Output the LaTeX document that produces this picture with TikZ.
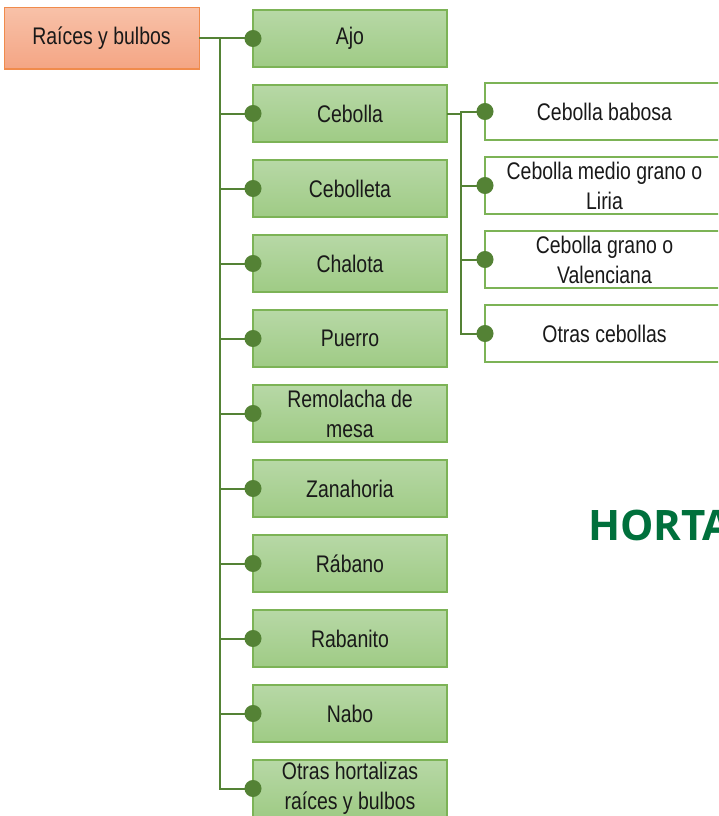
\documentclass[tikz,border=0pt]{standalone}
\usepackage{fontspec}
\setmainfont{Liberation Sans}[FakeStretch=0.81]
\newfontfamily\titulofont{Open Sans}
\usetikzlibrary{arrows.meta,positioning}

\definecolor{linea}{HTML}{548235}
\definecolor{bordeverde}{HTML}{7CB356}
\definecolor{verdearriba}{HTML}{B7D8A6}
\definecolor{verdeabajo}{HTML}{9FCB85}
\definecolor{bordenaranja}{HTML}{F08B4C}
\definecolor{naranjaarriba}{HTML}{F8C1A8}
\definecolor{naranjaabajo}{HTML}{F4A584}
\definecolor{verdetitulo}{HTML}{00703C}

\begin{document}
\begin{tikzpicture}[x=1pt,y=1pt,node distance=18pt,
    font=\fontsize{24}{30}\selectfont,text=black!90,
    raiz/.style={draw=bordenaranja,line width=1pt,top color=naranjaarriba,bottom color=naranjaabajo,
        minimum width=195pt,minimum height=61pt,inner sep=0pt,outer sep=0pt,align=center},
    hoja/.style={draw=bordeverde,line width=1.2pt,top color=verdearriba,bottom color=verdeabajo,
        minimum width=194pt,minimum height=57pt,inner sep=0pt,outer sep=0pt,align=center},
    subhoja/.style={draw=bordeverde,line width=1.2pt,fill=white,
        minimum width=239pt,minimum height=57pt,inner sep=0pt,outer sep=0pt,align=center},
    conn/.style={draw=linea,line width=2pt,-{Circle[length=17pt]},shorten >=-8.5pt}]
    \path[use as bounding box,clip] (0,0) rectangle (718,-816);

    \node[raiz] (raiz) at (101.5,-38.5) {Raíces y bulbos};

    \node[hoja] (ajo) at (350,-38.5) {Ajo};
    \node[hoja,below=of ajo] (cebolla) {Cebolla};
    \node[hoja,below=of cebolla] (cebolleta) {Cebolleta};
    \node[hoja,below=of cebolleta] (chalota) {Chalota};
    \node[hoja,below=of chalota] (puerro) {Puerro};
    \node[hoja,below=of puerro] (remolacha) {Remolacha de\\mesa};
    \node[hoja,below=of remolacha] (zanahoria) {Zanahoria};
    \node[hoja,below=of zanahoria] (rabano) {Rábano};
    \node[hoja,below=of rabano] (rabanito) {Rabanito};
    \node[hoja,below=of rabanito] (nabo) {Nabo};
    \node[hoja,below=of nabo] (otrasraices) {Otras hortalizas\\raíces y bulbos};

    \node[subhoja] (babosa) at (604.5,-111.5) {Cebolla babosa};
    \node[subhoja,below=17pt of babosa] (liria) {Cebolla medio grano o\\Liria};
    \node[subhoja,below=17pt of liria] (valenciana) {Cebolla grano o\\Valenciana};
    \node[subhoja,below=17pt of valenciana] (otrascebollas) {Otras cebollas};

    \node[anchor=base west,inner sep=0pt,text=verdetitulo,font=\titulofont\bfseries\fontsize{42}{42}\selectfont] (horta) at (588,-540) {HORTA};

    % raices y bulbos
    \draw[conn] (raiz.east) -- (ajo.west);
    \draw[conn] (raiz.east) -| ([xshift=-33pt]cebolla.west) -- (cebolla.west);
    \draw[conn] (raiz.east) -| ([xshift=-33pt]cebolleta.west) -- (cebolleta.west);
    \draw[conn] (raiz.east) -| ([xshift=-33pt]chalota.west) -- (chalota.west);
    \draw[conn] (raiz.east) -| ([xshift=-33pt]puerro.west) -- (puerro.west);
    \draw[conn] (raiz.east) -| ([xshift=-33pt]remolacha.west) -- (remolacha.west);
    \draw[conn] (raiz.east) -| ([xshift=-33pt]zanahoria.west) -- (zanahoria.west);
    \draw[conn] (raiz.east) -| ([xshift=-33pt]rabano.west) -- (rabano.west);
    \draw[conn] (raiz.east) -| ([xshift=-33pt]rabanito.west) -- (rabanito.west);
    \draw[conn] (raiz.east) -| ([xshift=-33pt]nabo.west) -- (nabo.west);
    \draw[conn] (raiz.east) -| ([xshift=-33pt]otrasraices.west) -- (otrasraices.west);

    % cebollas
    \draw[conn] (cebolla.east) -| ([xshift=-24pt]babosa.west) -- (babosa.west);
    \draw[conn] (cebolla.east) -| ([xshift=-24pt]liria.west) -- (liria.west);
    \draw[conn] (cebolla.east) -| ([xshift=-24pt]valenciana.west) -- (valenciana.west);
    \draw[conn] (cebolla.east) -| ([xshift=-24pt]otrascebollas.west) -- (otrascebollas.west);
\end{tikzpicture}
\end{document}
